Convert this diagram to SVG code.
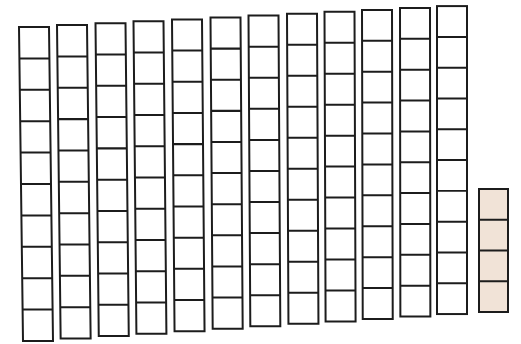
<svg xmlns="http://www.w3.org/2000/svg" xmlns:xlink="http://www.w3.org/1999/xlink" width="521" height="344" viewBox="0 0 521 344">
<style>
.rod{fill:#ffffff;stroke:#1c1c1c;stroke-width:2}
.cell{stroke:#1c1c1c;stroke-width:2}
.unit{fill:#f1e3d7;stroke:#1c1c1c;stroke-width:2}
</style>
<defs>
<g id="ten">
<rect class="rod" x="0" y="0" width="30" height="310"/>
<path class="cell" d="M0 31H30M0 62H30M0 93H30M0 124H30M0 155H30M0 186H30M0 217H30M0 248H30M0 279H30"/>
</g>
</defs>
<rect width="521" height="344" fill="#ffffff"/>
<g id="tens">
<g id="rod1"><use xlink:href="#ten" transform="translate(19,27) skewX(0.730) scale(1,1.0129)"/></g>
<g id="rod2"><use xlink:href="#ten" transform="translate(57,25.1) skewX(0.665) scale(1,1.0111)"/></g>
<g id="rod3"><use xlink:href="#ten" transform="translate(95.5,23.2) skewX(0.599) scale(1,1.0094)"/></g>
<g id="rod4"><use xlink:href="#ten" transform="translate(133.5,21.3) skewX(0.534) scale(1,1.0076)"/></g>
<g id="rod5"><use xlink:href="#ten" transform="translate(172,19.4) skewX(0.468) scale(1,1.0058)"/></g>
<g id="rod6"><use xlink:href="#ten" transform="translate(210.5,17.5) skewX(0.402) scale(1,1.0040)"/></g>
<g id="rod7"><use xlink:href="#ten" transform="translate(248.5,15.6) skewX(0.335) scale(1,1.0023)"/></g>
<g id="rod8"><use xlink:href="#ten" transform="translate(287,13.7) skewX(0.269) scale(1,1.0005)"/></g>
<g id="rod9"><use xlink:href="#ten" transform="translate(324.5,11.8) skewX(0.202) scale(1,0.9987)"/></g>
<g id="rod10"><use xlink:href="#ten" transform="translate(362,9.9) skewX(0.135) scale(1,0.9969)"/></g>
<g id="rod11"><use xlink:href="#ten" transform="translate(400,8) skewX(0.068) scale(1,0.9952)"/></g>
<g id="rod12"><use xlink:href="#ten" transform="translate(437,6.1) scale(1,0.9934)"/></g>
</g>
<g id="ones">
<rect class="unit" x="479" y="189" width="29" height="123"/>
<path class="cell" d="M479 219.75H508M479 250.5H508M479 281.25H508"/>
</g>
<g id="connectors"/>
</svg>
